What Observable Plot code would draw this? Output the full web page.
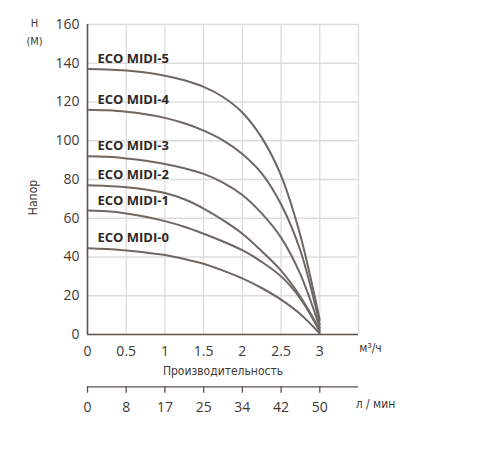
<!DOCTYPE html>
<html>
<head>
<meta charset="utf-8">
<script src="https://cdn.jsdelivr.net/npm/d3@7"></script>
<script src="https://cdn.jsdelivr.net/npm/@observablehq/plot@0.6"></script>
<style>
  body { margin: 0; background: #fff; }
  #chart svg { display: block; }
</style>
</head>
<body>
<div id="chart"></div>
<script>
// подача, м3/ч
const flow = [0, 0.25, 0.5, 0.75, 1, 1.25, 1.5, 1.75, 2, 2.25, 2.5, 2.75, 3];

// напор, м
const midi0 = [44.5, 44.1, 43.3, 42.3, 41, 39, 36.5, 33, 29, 24, 18, 10.5, 0.5];
const midi1 = [64, 63.6, 62.5, 60.8, 58.5, 55.6, 52, 48, 43.5, 37.5, 30, 18.5, 1.5];
const midi2 = [77, 76.7, 76, 74.8, 73, 69.8, 65, 59, 52, 43, 33, 19.5, 2.5];
const midi3 = [92, 91.7, 90.9, 89.7, 88, 85.8, 82.9, 78.4, 72, 62.5, 50, 31, 3.5];
const midi4 = [116, 115.7, 115, 113.7, 111.8, 109, 105.2, 100.2, 93.2, 83.2, 67.2, 43.2, 5.2];
const midi5 = [137, 136.8, 136.2, 135.2, 133.6, 131.2, 127.8, 122.6, 114.6, 101.6, 82, 51, 7.5];

const models = ['ECO MIDI-0', 'ECO MIDI-1', 'ECO MIDI-2', 'ECO MIDI-3', 'ECO MIDI-4', 'ECO MIDI-5'];
const heads = [midi0, midi1, midi2, midi3, midi4, midi5];

const xTicks = [0, 0.5, 1, 1.5, 2, 2.5, 3];
const yTicks = [0, 20, 40, 60, 80, 100, 120, 140, 160];
const lpmLabels = ['0', '8', '17', '25', '34', '42', '50'];

const rows = models.flatMap((m, i) => flow.map((q, j) => ({model: m, q: q, h: heads[i][j]})));
const starts = models.map((m, i) => ({model: m, q: flow[0], h: heads[i][0]}));

const ink = '#3f3934';
const narrow = '"Liberation Sans Narrow", "DejaVu Sans Condensed", sans-serif';

let chart = Plot.plot({
  width: 503,
  height: 450,
  marginLeft: 87,
  marginRight: 145,
  marginTop: 24,
  marginBottom: 116,
  style: {
    fontFamily: '"Open Sans", sans-serif',
    fontSize: '14px',
    color: ink,
    background: '#fff'
  },
  x: {
    domain: [0, 3.5],
    ticks: xTicks,
    tickFormat: d => String(d),
    tickSize: 0,
    tickPadding: 12,
    label: null
  },
  y: {
    domain: [0, 160],
    ticks: yTicks,
    tickSize: 0,
    tickPadding: 8,
    label: null
  },
  marks: [
    Plot.gridX([0.5, 1, 1.5, 2, 2.5, 3, 3.5], {stroke: '#dcdcdc', strokeOpacity: 1, strokeWidth: 1.3}),
    Plot.gridY([20, 40, 60, 80, 100, 120, 140, 160], {stroke: '#dcdcdc', strokeOpacity: 1, strokeWidth: 1.3}),
    Plot.ruleX([0], {stroke: '#5a524b', strokeWidth: 1.6}),
    Plot.ruleY([0], {stroke: '#5a524b', strokeWidth: 1.6}),

    Plot.line(rows, {
      x: 'q',
      y: 'h',
      z: 'model',
      stroke: '#6e6762',
      strokeWidth: 2,
      curve: 'catmull-rom'
    }),

    Plot.text(starts, {
      x: 'q',
      y: 'h',
      text: 'model',
      textAnchor: 'start',
      dx: 10,
      dy: -10,
      fontWeight: 'bold',
      fontSize: 13,
      fill: '#2e2925'
    }),

    // шкала л/мин
    Plot.ruleY([-27], {x1: 0, x2: 3.5, stroke: '#5a524b', strokeWidth: 1.3}),
    Plot.ruleX(xTicks, {y1: -27, y2: -30.3, stroke: '#5a524b', strokeWidth: 1.3}),
    Plot.text(xTicks, {x: d => d, y: -37.7, text: (d, i) => lpmLabels[i], fill: ink}),

    Plot.text(['м³/ч'], {frameAnchor: 'bottom-right', textAnchor: 'middle', dx: 12, dy: 17, fontFamily: narrow, fontSize: 12, fill: ink}),
    Plot.text(['л / мин'], {frameAnchor: 'bottom-right', textAnchor: 'middle', dx: 17, dy: 73, fontFamily: narrow, fontSize: 12, fill: ink}),
    Plot.text(['Производительность'], {frameAnchor: 'bottom', textAnchor: 'middle', dy: 40, fontFamily: narrow, fontSize: 12, fill: ink}),
    Plot.text(['Напор'], {frameAnchor: 'left', textAnchor: 'middle', dx: -54, dy: 18, rotate: -90, fontFamily: narrow, fontSize: 12, fill: ink}),
    Plot.text(['H'], {frameAnchor: 'top-left', textAnchor: 'middle', dx: -53, dy: -5, fontFamily: narrow, fontSize: 11, fill: ink}),
    Plot.text(['(M)'], {frameAnchor: 'top-left', textAnchor: 'middle', dx: -53, dy: 13, fontFamily: narrow, fontSize: 11, fill: ink})
  ]
});

d3.select('#chart').append(() => chart);
</script>
</body>
</html>
